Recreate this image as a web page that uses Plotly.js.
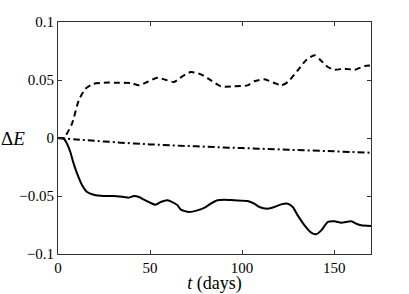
<!DOCTYPE html>
<html><head><meta charset="utf-8">
<script src="https://cdn.plot.ly/plotly-3.0.1.min.js"></script>
<style>body{margin:0;background:#fff}#c{width:409px;height:294px}</style>
</head><body><div id="c"></div>
<script>
const dashedT = [0, 3.1, 7.6, 11.3, 14.9, 19.4, 24.9, 32.2, 39.4, 44.0, 48.5, 54.0, 59.4, 63.0, 67.6, 72.1, 77.6, 83.0, 88.5, 95.7, 103, 106.6, 112.1, 117.5, 121.2, 124.8, 130.2, 135, 139.3, 142, 146.6, 150.2, 155.7, 161.1, 166.6, 170];
const dashedE = [0, 0, 0.0124, 0.0325, 0.0425, 0.0468, 0.0477, 0.0477, 0.0474, 0.0454, 0.0483, 0.052, 0.0497, 0.0483, 0.0532, 0.0569, 0.0549, 0.0497, 0.0445, 0.0445, 0.0454, 0.0489, 0.0506, 0.0474, 0.0454, 0.0483, 0.0583, 0.0675, 0.0713, 0.0680, 0.0612, 0.0589, 0.0598, 0.0589, 0.0621, 0.0626];
const solidT = [0, 3.1, 4.9, 6.7, 8.5, 10.4, 13.1, 15.8, 19.4, 24.9, 30.3, 35.8, 38.5, 41.2, 44.0, 46.7, 50.3, 53.0, 55.8, 59.4, 62.1, 64.9, 66.7, 71.2, 75.7, 79.4, 83.0, 86.6, 90.3, 95.7, 103, 106.6, 109.4, 113.9, 117.5, 121.2, 124.8, 127.5, 130.2, 133.9, 137.5, 140.2, 143.0, 146.6, 150.2, 153.9, 159.3, 162.0, 164.7, 170];
const solidE = [0, -0.0006, -0.0049, -0.0121, -0.0221, -0.0307, -0.0408, -0.0466, -0.0489, -0.05, -0.05, -0.0509, -0.0514, -0.05, -0.0509, -0.0532, -0.056, -0.0575, -0.0552, -0.0537, -0.0552, -0.058, -0.0618, -0.0638, -0.0624, -0.0603, -0.0566, -0.0537, -0.0532, -0.0537, -0.0543, -0.0566, -0.0595, -0.0609, -0.0595, -0.0572, -0.0566, -0.0595, -0.0667, -0.0753, -0.0816, -0.083, -0.0796, -0.0724, -0.0718, -0.073, -0.0718, -0.0739, -0.0753, -0.0759];
const dashdotT = [0, 10, 25, 50, 75, 100, 125, 150, 170];
const dashdotE = [0, -0.0012, -0.003, -0.0055, -0.0072, -0.0087, -0.0101, -0.0115, -0.0127];
const xTicks = [0, 50, 100, 150];
const yTicks = [-0.1, -0.05, 0, 0.05, 0.1];
const yTickText = ['\u22120.1', '\u22120.05', '0', '0.05', '0.1'];

const serif = 'Liberation Serif';
const traces = [
  {x: dashedT, y: dashedE, mode: 'lines', line: {color: '#000', width: 2, dash: '6px,4px', shape: 'spline', smoothing: 0.6}},
  {x: solidT, y: solidE, mode: 'lines', line: {color: '#000', width: 2, shape: 'spline', smoothing: 0.6}},
  {x: dashdotT, y: dashdotE, mode: 'lines', line: {color: '#000', width: 2, dash: '7px,3px,2px,3px', shape: 'spline'}}
];
const axisCommon = {showline: true, mirror: 'ticks', linecolor: '#333', linewidth: 1, ticks: 'inside', ticklen: 4, tickcolor: '#333', showgrid: false, zeroline: false, tickfont: {family: serif, size: 15, color: '#000'}};
const layout = {
  width: 409, height: 294,
  font: {family: serif, size: 15},
  margin: {l: 58, r: 38, t: 22, b: 40},
  paper_bgcolor: '#fff', plot_bgcolor: '#fff',
  showlegend: false,
  xaxis: Object.assign({}, axisCommon, {range: [0, 170], tickvals: xTicks, ticktext: xTicks.map(String),
    title: {text: '<i>t</i> (days)', font: {family: serif, size: 18, color: '#000'}, standoff: 0}}),
  yaxis: Object.assign({}, axisCommon, {range: [-0.1, 0.1], tickvals: yTicks, ticktext: yTickText}),
  annotations: [{xref: 'paper', yref: 'y', x: -0.188, y: 0, xanchor: 'left', yanchor: 'middle', showarrow: false,
    text: '\u0394<i>E</i>', font: {family: serif, size: 19, color: '#000'}}]
};
Plotly.newPlot('c', traces, layout, {displayModeBar: false});
</script></body></html>
